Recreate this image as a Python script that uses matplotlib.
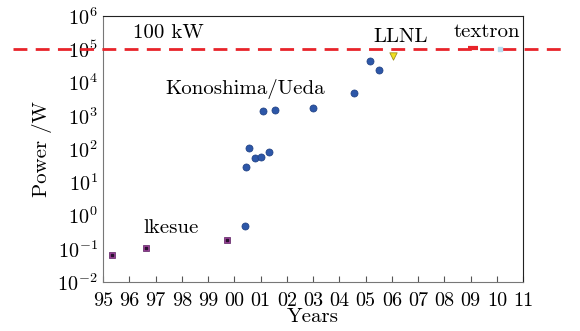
import matplotlib
matplotlib.use("Agg")
import matplotlib.pyplot as plt

plt.rcParams['font.family'] = ['cmr10', 'DejaVu Serif']
plt.rcParams['mathtext.fontset'] = 'cm'
plt.rcParams['axes.formatter.use_mathtext'] = True

# data
ikesue_year = [1995.34, 1996.64, 1999.73]
ikesue_power = [0.065, 0.105, 0.18]

kono_year = [2000.42, 2000.45, 2000.57, 2000.8, 2001.0, 2001.33, 2001.07, 2001.53,
             2002.98, 2004.54, 2005.15, 2005.5]
kono_power = [0.48, 28, 105, 52, 56, 80, 1350, 1450, 1660, 4700, 43000, 23000]

llnl_year = [2006.03]
llnl_power = [62000]

textron_year = [2009.1]
textron_power = [1.05e5]
other_year = [2010.1]
other_power = [1.0e5]

limit_power = 1e5
year_ticks = list(range(1995, 2012))
year_labels = ['%02d' % (y % 100) for y in year_ticks]

fig = plt.figure(figsize=(5.8, 3.31), dpi=100)
ax = fig.add_axes([0.178, 0.148, 0.724, 0.804])
ax.set_yscale('log')
ax.set_ylim(1e-2, 1e6)
ax.set_xlim(1995, 2011)

# 100 kW line runs past the frame on both sides
ax.plot([1991.55, 2012.7], [limit_power, limit_power], color='#e8242a', lw=2,
        dashes=(5, 3), clip_on=False, zorder=3)

ax.scatter(ikesue_year, ikesue_power, marker='s', s=22, color='#9b3f98',
           edgecolor='#5a2060', linewidth=0.5, zorder=4)
ax.scatter(ikesue_year, ikesue_power, marker='s', s=3, color='#2a1030', zorder=5)
ax.scatter(kono_year, kono_power, marker='o', s=26, color='#2d57a8',
           edgecolor='#1f3f80', linewidth=0.5, zorder=4)
ax.scatter(llnl_year, llnl_power, marker='v', s=28, color='#f0e020',
           edgecolor='#a09020', linewidth=0.6, zorder=4)
ax.scatter(textron_year, textron_power, marker='_', s=60, color='#e8242a',
           linewidth=3, zorder=4)
ax.scatter(other_year, other_power, marker='s', s=10, color='#b8dcee', zorder=4)

ax.text(1996.15, 3.0e5, '100 kW', fontsize=15, va='center')
ax.text(1997.37, 6.3e3, 'Konoshima/Ueda', fontsize=15, va='center')
ax.text(2005.3, 2.3e5, 'LLNL', fontsize=15, va='center')
ax.text(2008.36, 3.2e5, 'textron', fontsize=15, va='center')
ax.text(1996.53, 0.42, 'lkesue', fontsize=15, va='center')

ax.set_xticks(year_ticks)
ax.set_xticklabels(year_labels)
ax.set_yticks([10.0 ** k for k in range(-2, 7)])
ax.minorticks_off()
ax.tick_params(axis='x', direction='in', length=4, color='#555555', labelsize=14.5, pad=7)
ax.tick_params(axis='y', direction='in', length=0, labelsize=14.5, pad=4)

for s in ['left', 'bottom']:
    ax.spines[s].set_color('#777777')
for s in ['top', 'right']:
    ax.spines[s].set_color('#222222')

ax.set_xlabel('Years', fontsize=15, labelpad=-1)
ax.set_ylabel('Power /W', fontsize=15, labelpad=4)

fig.savefig('out.png', dpi=100)
